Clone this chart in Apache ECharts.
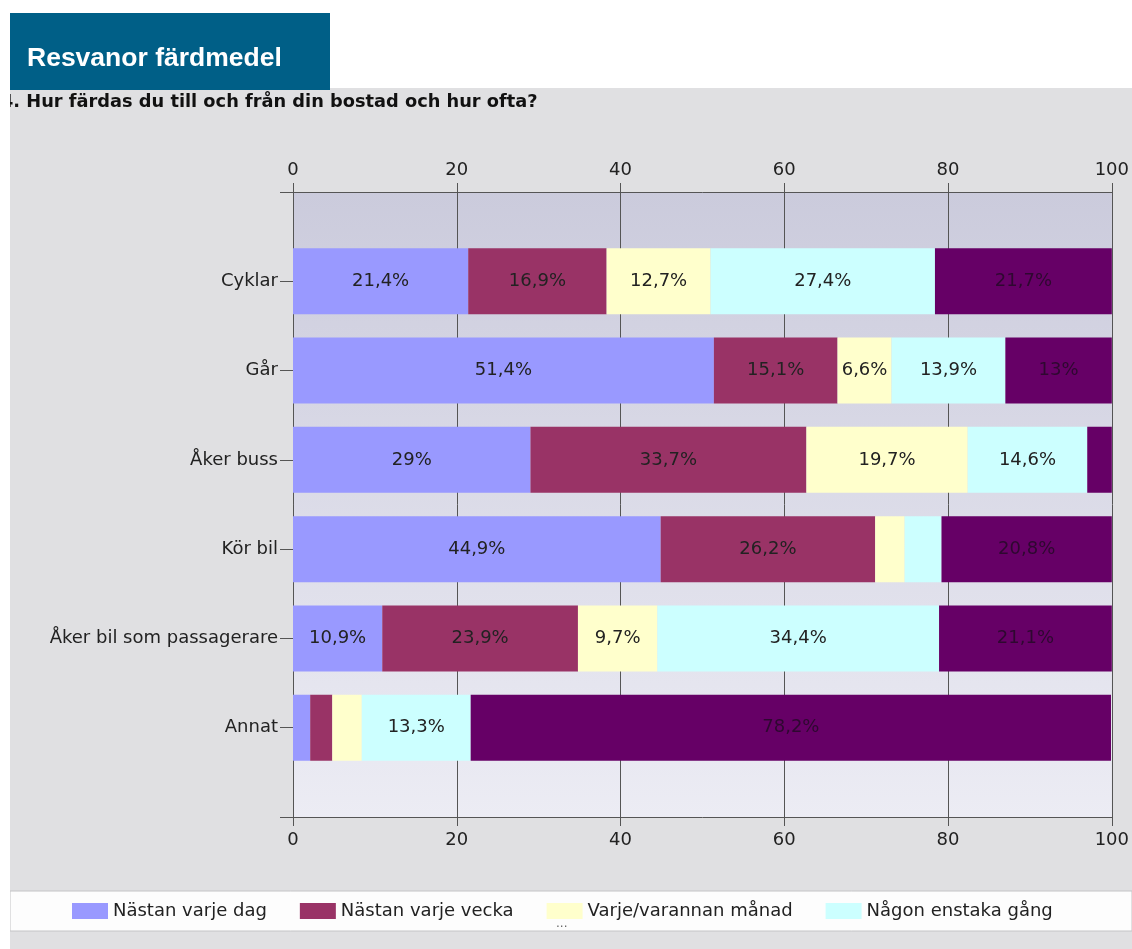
<!DOCTYPE html>
<html lang="sv">
<head>
    <meta charset="UTF-8">
    <title>Resvanor färdmedel</title>
    <script src="https://cdn.jsdelivr.net/npm/echarts/dist/echarts.min.js"></script>
    <style>
        html, body { margin: 0; padding: 0; background: #fff; }
        #chart { width: 1132px; height: 949px; }
    </style>
</head>
<body>
<div id="chart"></div>

<script>
    const categories = ['Cyklar', 'Går', 'Åker buss', 'Kör bil', 'Åker bil som passagerare', 'Annat'];
    const seriesNames = ['Nästan varje dag', 'Nästan varje vecka', 'Varje/varannan månad', 'Någon enstaka gång', 'Aldrig'];
    const dagValues = [21.4, 51.4, 29, 44.9, 10.9, 2.1];
    const veckaValues = [16.9, 15.1, 33.7, 26.2, 23.9, 2.7];
    const manadValues = [12.7, 6.6, 19.7, 3.6, 9.7, 3.6];
    const enstakaValues = [27.4, 13.9, 14.6, 4.5, 34.4, 13.3];
    const aldrigValues = [21.7, 13, 3, 20.8, 21.1, 78.2];
    const xTicks = [0, 20, 40, 60, 80, 100];

    const colors = ['#9999ff', '#993366', '#ffffcc', '#ccffff', '#660066'];
    const font = '"DejaVu Sans", Verdana, sans-serif';

    // empty slot above and below the bars, like the original plot
    const yData = [''].concat(categories, ['']);
    const pad = arr => ['-'].concat(arr, ['-']);

    function fmt(p) {
        if (typeof p.value !== 'number' || p.value < 5) return '';
        return String(p.value).replace('.', ',') + '%';
    }

    const allValues = [dagValues, veckaValues, manadValues, enstakaValues, aldrigValues];
    const series = allValues.map((vals, i) => ({
        name: seriesNames[i],
        type: 'bar',
        stack: 'total',
        barWidth: 66,
        data: pad(vals),
        itemStyle: { color: colors[i] },
        label: {
            show: true,
            position: 'inside',
            formatter: fmt,
            fontFamily: font,
            fontSize: 18,
            color: i === 4 ? '#2e0830' : '#222'
        }
    }));

    const axisStyle = { lineStyle: { color: '#555', width: 1 } };

    const chart = echarts.init(document.getElementById('chart'));
    chart.setOption({
        animation: false,
        backgroundColor: '#fff',
        graphic: [
            { type: 'rect', z: -10, shape: { x: 10, y: 88, width: 1122, height: 861 }, style: { fill: '#e0e0e2' } },
            { type: 'rect', z: -9, shape: { x: 10, y: 891, width: 1122, height: 40 },
              style: { fill: '#fdfdfd', stroke: '#c4c4c6', lineWidth: 1 } },
            { type: 'rect', z: 10, shape: { x: 10, y: 13, width: 320, height: 77 }, style: { fill: '#005f87' } },
            { type: 'text', z: 11, left: 27, top: 45,
              style: { text: 'Resvanor färdmedel', fill: '#fff', font: 'bold 26.5px "Liberation Sans", Arial, sans-serif' } },
            { type: 'text', z: 5, left: 1, top: 93,
              style: { text: '4. Hur färdas du till och från din bostad och hur ofta?', fill: '#111', font: 'bold 17.8px ' + font } },
            { type: 'rect', z: 6, shape: { x: 0, y: 88, width: 10, height: 861 }, style: { fill: '#fff' } },
            { type: 'text', z: 5, left: 556, top: 918, style: { text: '...', fill: '#666', font: '12px ' + font } }
        ],
        legend: {
            data: seriesNames.slice(0, 4),
            left: 72,
            top: 902,
            padding: 0,
            icon: 'rect',
            itemWidth: 36,
            itemHeight: 16,
            itemGap: 33,
            textStyle: { fontFamily: font, fontSize: 18, color: '#222' }
        },
        grid: {
            left: 293,
            right: 16,
            top: 192,
            bottom: 132,
            show: true,
            borderWidth: 0,
            backgroundColor: {
                type: 'linear', x: 0, y: 0, x2: 0, y2: 1,
                colorStops: [
                    { offset: 0, color: '#cbcbdc' },
                    { offset: 1, color: '#ececf4' }
                ]
            }
        },
        xAxis: [
            {
                type: 'value',
                position: 'top',
                min: 0,
                max: 100,
                interval: 20,
                axisLine: Object.assign({ show: true }, axisStyle),
                axisTick: Object.assign({ show: true, length: 9 }, axisStyle),
                axisLabel: {
                    fontFamily: font, fontSize: 18, color: '#222', margin: 13,
                    formatter: v => xTicks.includes(v) ? String(v) : ''
                },
                splitLine: { show: true, lineStyle: { color: '#555', width: 1 } }
            },
            {
                type: 'value',
                position: 'bottom',
                min: 0,
                max: 100,
                interval: 20,
                axisLine: Object.assign({ show: true }, axisStyle),
                axisTick: Object.assign({ show: true, length: 9 }, axisStyle),
                axisLabel: { fontFamily: font, fontSize: 18, color: '#222', margin: 14 },
                splitLine: { show: false }
            }
        ],
        yAxis: {
            type: 'category',
            inverse: true,
            boundaryGap: false,
            data: yData,
            axisLine: Object.assign({ show: true }, axisStyle),
            axisTick: Object.assign({ show: true, length: 13, interval: 0 }, axisStyle),
            axisLabel: { interval: 0, fontFamily: font, fontSize: 18, color: '#222', margin: 15 },
            splitLine: { show: false }
        },
        series: series
    });
</script>
</body>
</html>
